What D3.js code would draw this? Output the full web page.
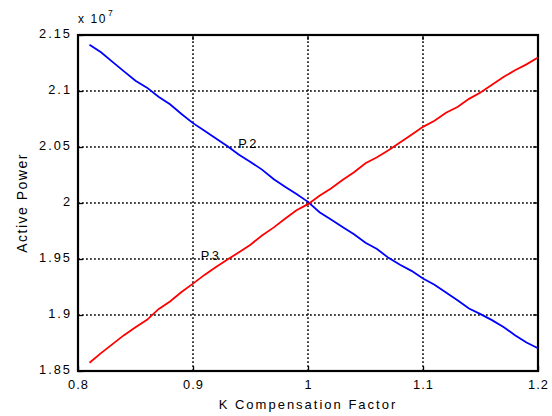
<!DOCTYPE html>
<html>
<head>
<meta charset="utf-8">
<script src="https://cdn.jsdelivr.net/npm/d3@7"></script>
<style>
  html, body { margin: 0; padding: 0; background: #fff; }
  svg { display: block; }
  text { font-family: "Liberation Sans", Arial, sans-serif; fill: #000; }
</style>
</head>
<body>
<svg id="chart" width="552" height="416"></svg>
<script>
// Compensation factor K, sampled every 0.01
const kValues = [0.81,0.82,0.83,0.84,0.85,0.86,0.87,0.88,0.89,0.90,
                 0.91,0.92,0.93,0.94,0.95,0.96,0.97,0.98,0.99,1.00,
                 1.01,1.02,1.03,1.04,1.05,1.06,1.07,1.08,1.09,1.10,
                 1.11,1.12,1.13,1.14,1.15,1.16,1.17,1.18,1.19,1.20];

// Active power of P2 (units of 1e7)
const p2Values = [2.1413,2.1346,2.1260,2.1175,2.1091,2.1030,2.0948,2.0881,2.0795,2.0713,
                  2.0645,2.0575,2.0506,2.0430,2.0367,2.0298,2.0214,2.0146,2.0080,2.0010,
                  1.9918,1.9852,1.9786,1.9720,1.9645,1.9590,1.9510,1.9448,1.9394,1.9326,
                  1.9270,1.9200,1.9132,1.9058,1.9008,1.8954,1.8893,1.8820,1.8755,1.8703];

// Active power of P3 (units of 1e7)
const p3Values = [1.8574,1.8660,1.8740,1.8820,1.8890,1.8957,1.9052,1.9120,1.9205,1.9280,
                  1.9358,1.9428,1.9495,1.9560,1.9628,1.9710,1.9780,1.9860,1.9935,1.9990,
                  2.0065,2.0130,2.0205,2.0275,2.0355,2.0408,2.0470,2.0540,2.0610,2.0680,
                  2.0735,2.0806,2.0857,2.0930,2.0987,2.1055,2.1125,2.1185,2.1238,2.1300];

const xTicks = [0.8, 0.9, 1.0, 1.1, 1.2];
const yTicks = [1.85, 1.9, 1.95, 2.0, 2.05, 2.1, 2.15];
const xTickLabels = ["0.8", "0.9", "1", "1.1", "1.2"];
const yTickLabels = ["1.85", "1.9", "1.95", "2", "2.05", "2.1", "2.15"];

const seriesLabels = [
  { name: "P2", k: 0.9394, v: 2.0488 },
  { name: "P3", k: 0.9067, v: 1.9488 }
];

const margin = { left: 78, top: 35, right: 14, bottom: 45 };
const W = 552, H = 416;
const svg = d3.select("#chart");

const x = d3.scaleLinear().domain([0.8, 1.2]).range([margin.left, W - margin.right]);
const y = d3.scaleLinear().domain([1.85, 2.15]).range([H - margin.bottom, margin.top]);

const x0 = x.range()[0], x1 = x.range()[1];
const y0 = y.range()[0], y1 = y.range()[1];

// dotted grid
const grid = svg.append("g").attr("stroke", "#000").attr("stroke-width", 1.5)
  .attr("stroke-dasharray", "1.8,2.2");
grid.selectAll("line.gx").data(xTicks.slice(1, -1)).join("line")
  .attr("x1", d => x(d)).attr("x2", d => x(d)).attr("y1", y0).attr("y2", y1);
grid.selectAll("line.gy").data(yTicks.slice(1, -1)).join("line")
  .attr("x1", x0).attr("x2", x1).attr("y1", d => y(d)).attr("y2", d => y(d));

// axes with labels, ticks inward
const xAxis = d3.axisBottom(x).tickValues(xTicks)
  .tickFormat((d, i) => xTickLabels[i]).tickSizeInner(-5).tickSizeOuter(0).tickPadding(9);
const yAxis = d3.axisLeft(y).tickValues(yTicks)
  .tickFormat((d, i) => yTickLabels[i]).tickSizeInner(-5).tickSizeOuter(0).tickPadding(6);

const gx = svg.append("g").attr("transform", `translate(0,${y0})`).call(xAxis);
const gy = svg.append("g").attr("transform", `translate(${x0},0)`).call(yAxis);
[gx, gy].forEach(g => {
  g.select(".domain").remove();
  g.selectAll(".tick line").attr("stroke", "#000").attr("stroke-width", 1.3);
  g.selectAll(".tick text")
    .style("font-family", '"Liberation Sans", Arial, sans-serif')
    .style("font-size", "12.8px").attr("fill", "#000");
});
gx.selectAll(".tick text").style("letter-spacing", "1px");
gy.selectAll(".tick text").style("letter-spacing", "2px").attr("dy", "0.18em");

// right-side inward ticks
svg.append("g").selectAll("line").data(yTicks).join("line")
  .attr("x1", x1).attr("x2", x1 - 5).attr("y1", d => y(d)).attr("y2", d => y(d))
  .attr("stroke", "#000").attr("stroke-width", 1.3);
svg.append("g").selectAll("line").data(xTicks).join("line")
  .attr("x1", d => x(d)).attr("x2", d => x(d)).attr("y1", y1).attr("y2", y1 + 5)
  .attr("stroke", "#000").attr("stroke-width", 1.3);

// frame
svg.append("rect").attr("x", x0).attr("y", y1).attr("width", x1 - x0).attr("height", y0 - y1)
  .attr("fill", "none").attr("stroke", "#000").attr("stroke-width", 2.2);

// series
const line = d3.line().x(d => x(d[0])).y(d => y(d[1]));
svg.append("path").datum(kValues.map((k, i) => [k, p2Values[i]]))
  .attr("d", line).attr("fill", "none").attr("stroke", "#0000ff").attr("stroke-width", 1.8);
svg.append("path").datum(kValues.map((k, i) => [k, p3Values[i]]))
  .attr("d", line).attr("fill", "none").attr("stroke", "#ff0000").attr("stroke-width", 1.8);

// series labels
svg.append("g").selectAll("text").data(seriesLabels).join("text")
  .attr("x", d => x(d.k)).attr("y", d => y(d.v))
  .style("font-size", "12.8px").style("letter-spacing", "2.5px")
  .text(d => d.name);

// exponent label
const ex = svg.append("text").attr("x", x0).attr("y", 22.5)
  .style("font-size", "12px").style("letter-spacing", "1.6px");
ex.append("tspan").text("x 10");
ex.append("tspan").attr("dy", -7).attr("dx", 1).style("font-size", "8.5px").text("7");

// axis titles
svg.append("text").attr("x", (x0 + x1) / 2).attr("y", 409).attr("text-anchor", "middle")
  .style("font-size", "13px").style("letter-spacing", "2px").text("K Compensation Factor");
svg.append("text").attr("transform", `translate(26.5,${(y0 + y1) / 2}) rotate(-90)`)
  .attr("text-anchor", "middle")
  .style("font-size", "14px").style("letter-spacing", "1.5px").text("Active Power");
</script>
</body>
</html>
